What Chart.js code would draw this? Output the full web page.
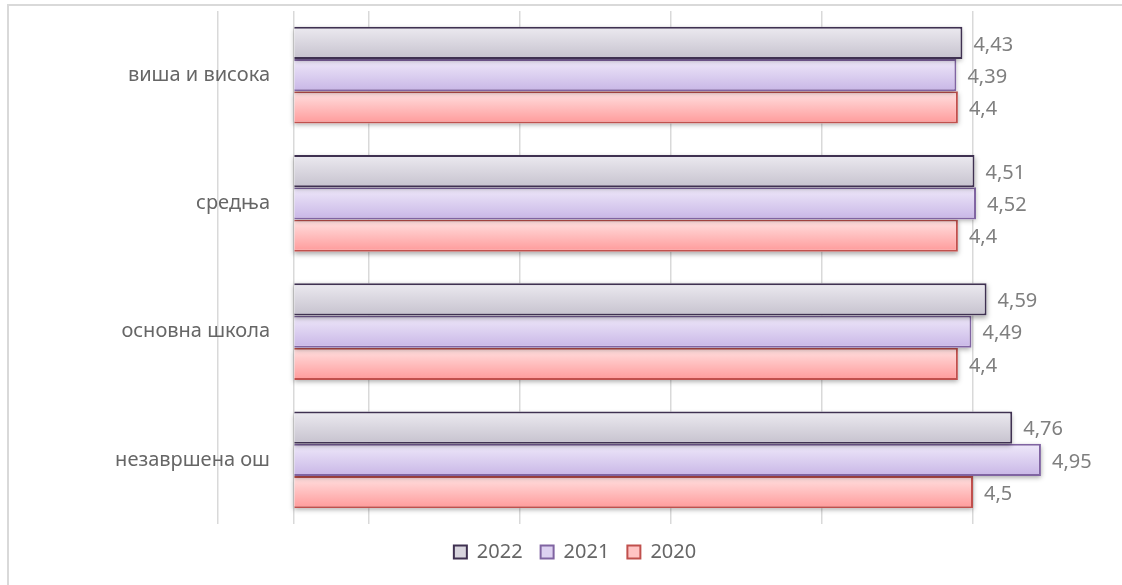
<!DOCTYPE html>
<html>
<head>
<meta charset="utf-8">
<script src="https://cdn.jsdelivr.net/npm/chart.js@4/dist/chart.umd.min.js"></script>
<style>
  html, body { margin: 0; padding: 0; background: #fff; overflow: hidden; }
  /* outer chart frame, only its top and left edges fall inside the window */
  #frame { position: absolute; left: 7px; top: 4px; width: 1300px; height: 800px;
           border-left: 2px solid #d9d9d9; border-top: 2px solid #d9d9d9; }
  #wrap { position: absolute; left: 0; top: 0; width: 1124px; height: 585px; }
</style>
</head>
<body>
<div id="frame"></div>
<div id="wrap"><canvas id="chart"></canvas></div>
<script>
// education levels, top to bottom
var categories = ['виша и висока', 'средња', 'основна школа', 'незавршена ош'];
var years = ['2022', '2021', '2020'];
var values2022 = [4.43, 4.51, 4.59, 4.76];
var values2021 = [4.39, 4.52, 4.49, 4.95];
var values2020 = [4.4, 4.4, 4.4, 4.5];
// vertical gridlines (0 is the category axis line)
var gridTicks = [-0.5, 0, 0.5, 1.5, 2.5, 3.5, 4.5, 5.5];

var FONT = '"Noto Sans", "DejaVu Sans", sans-serif';

// category names sit over the plot, right edge ~52px past its left side
var mctx = document.createElement('canvas').getContext('2d');
mctx.font = '20px ' + FONT;
var widest = Math.max.apply(null, categories.map(function(c){ return mctx.measureText(c).width; }));

function makeSet(label, data, border, top, bottom, mid){
    return {
        label: label,
        data: data,
        backgroundColor: mid,
        borderColor: border,
        borderWidth: 2,
        gradTop: top,
        gradBottom: bottom
    };
}

// vertical gradient fill for every bar
var barGradients = {
    id: 'barGradients',
    beforeDatasetsDraw: function(chart){
        var ctx = chart.ctx;
        chart.data.datasets.forEach(function(ds, i){
            chart.getDatasetMeta(i).data.forEach(function(bar){
                var top = bar.y - bar.height / 2;
                var g = ctx.createLinearGradient(0, top, 0, top + bar.height);
                g.addColorStop(0, ds.gradTop);
                g.addColorStop(1, ds.gradBottom);
                bar.options = Object.assign({}, bar.options, {backgroundColor: g});
            });
        });
    }
};

// soft drop shadow under the bars
var barShadow = {
    id: 'barShadow',
    beforeDatasetDraw: function(chart, args){
        var ctx = chart.ctx;
        ctx.save();
        ctx.shadowColor = 'rgba(0,0,0,0.35)';
        ctx.shadowBlur = 5;
        ctx.shadowOffsetX = 0;
        ctx.shadowOffsetY = 2;
        ctx.fillStyle = '#fff';
        args.meta.data.forEach(function(bar){
            var top = bar.y - bar.height / 2;
            ctx.fillRect(bar.base, top, bar.x - bar.base, bar.height);
        });
        ctx.restore();
    }
};

// value labels right of each bar, decimal comma
var valueLabels = {
    id: 'valueLabels',
    afterDatasetsDraw: function(chart){
        var ctx = chart.ctx;
        ctx.save();
        ctx.font = '20px ' + FONT;
        ctx.fillStyle = '#7f7f7f';
        ctx.textAlign = 'left';
        ctx.textBaseline = 'middle';
        chart.data.datasets.forEach(function(ds, i){
            chart.getDatasetMeta(i).data.forEach(function(bar, j){
                var txt = String(ds.data[j]).replace('.', ',');
                ctx.fillText(txt, bar.x + 11, bar.y + 2);
            });
        });
        ctx.restore();
    }
};

new Chart(document.getElementById('chart'), {
    type: 'bar',
    data: {
        labels: categories,
        datasets: [
            makeSet(years[0], values2022, '#3f3151', '#eceaf0', '#c6c2ce', '#d8d5de'),
            makeSet(years[1], values2021, '#8064a2', '#efe9fa', '#c8b6e6', '#ddd1f1'),
            makeSet(years[2], values2020, '#c0504d', '#ffe2e2', '#ff9a9a', '#ffc4c4')
        ]
    },
    options: {
        indexAxis: 'y',
        responsive: true,
        maintainAspectRatio: false,
        animation: false,
        layout: { padding: { top: 11, right: 0, bottom: 13, left: 26 } },
        datasets: { bar: { categoryPercentage: 0.753, barPercentage: 1 } },
        scales: {
            x: {
                min: -0.5,
                max: 5.5,
                afterBuildTicks: function(scale){
                    scale.ticks = gridTicks.map(function(v){ return {value: v}; });
                },
                ticks: { display: false },
                grid: { color: '#d9d9d9', lineWidth: 1.5, drawTicks: false },
                border: { display: false }
            },
            y: {
                afterFit: function(scale){ scale.width = 192; },
                ticks: {
                    mirror: true,
                    crossAlign: 'far',
                    padding: 52 - widest,
                    color: '#666666',
                    font: { family: FONT, size: 20 }
                },
                grid: { display: false },
                border: { display: false }
            }
        },
        plugins: {
            legend: {
                position: 'bottom',
                labels: {
                    boxWidth: 13,
                    boxHeight: 13,
                    padding: 18,
                    color: '#666666',
                    font: { family: FONT, size: 20 }
                }
            },
            tooltip: { enabled: false }
        }
    },
    plugins: [barGradients, barShadow, valueLabels]
});
</script>
</body>
</html>
